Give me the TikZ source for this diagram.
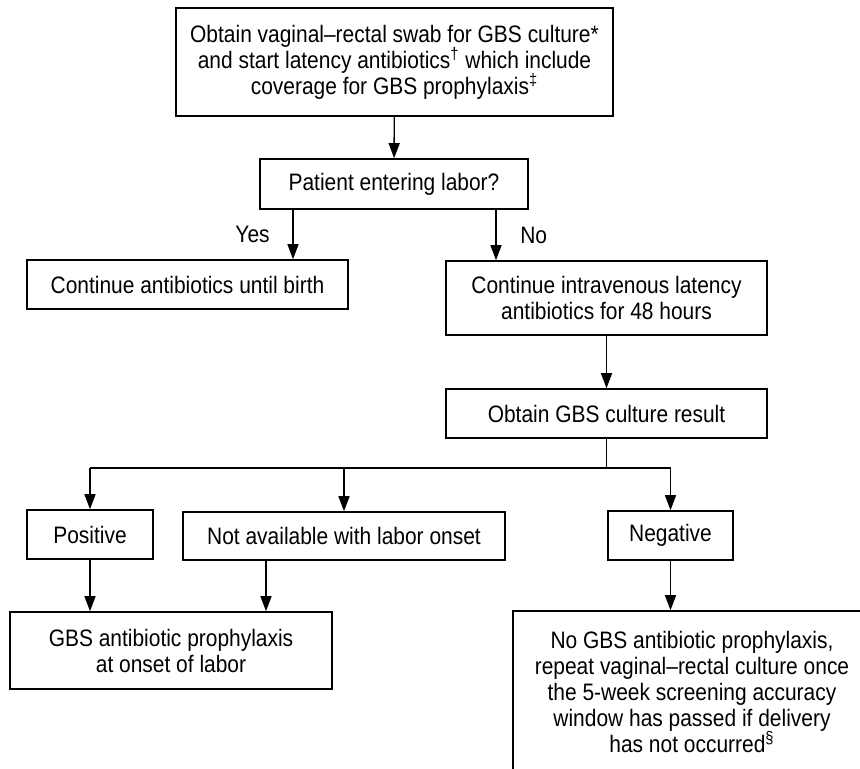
\documentclass[tikz,border=0pt]{standalone}
\usepackage{fontspec}
\setmainfont{Liberation Sans}[FakeStretch=0.88]
\usepackage{tikz}
\usetikzlibrary{positioning,calc}
\usetikzlibrary{arrows.meta}

\begin{document}
\begin{tikzpicture}[x=0.5pt,y=-0.5pt,
  every node/.style={font=\fontsize{11.9}{13}\selectfont},
  box/.style={draw,line width=0.8pt,align=center,inner sep=0pt},
  flow/.style={-{Triangle[length=7.5pt,width=5.5pt]},line width=0.7pt}]
  \useasboundingbox (0,0) rectangle (860,768);
  \clip (0,0) rectangle (860,768);
  % boxes
  \node[box,minimum width=218.5pt,minimum height=54pt] (swab) at (394.5,62)
    {Obtain vaginal--rectal swab for GBS culture*\\
     and start latency antibiotics\textsuperscript{†} which include\\
     coverage for GBS prophylaxis\textsuperscript{‡}};
  \node[box,minimum width=134pt,minimum height=25pt] (labor) at (394,184) {Patient entering labor?};
  \node[box,minimum width=160.5pt,minimum height=24.5pt] (birth) at (187.5,284.5) {Continue antibiotics until birth};
  \node[box,minimum width=160.5pt,minimum height=37pt] (iv) at (606.5,298)
    {Continue intravenous latency\\ antibiotics for 48 hours};
  \node[box,minimum width=160.5pt,minimum height=24.5pt] (result) at (606.5,413.5) {Obtain GBS culture result};
  \node[box,minimum width=63pt,minimum height=24.5pt] (pos) at (90,534.5) {Positive};
  \node[box,minimum width=161pt,minimum height=24pt] (na) at (344,536) {Not available with labor onset};
  \node[box,minimum width=62.5pt,minimum height=24.5pt] (neg) at (670.5,535.5) {Negative};
  \node[box,minimum width=161pt,minimum height=38.5pt] (prophy) at (171,650.5)
    {GBS antibiotic prophylaxis\\ at onset of labor};
  \node[box,minimum width=179pt,minimum height=81pt] (nogbs) at (692,692)
    {No GBS antibiotic prophylaxis,\\
     repeat vaginal--rectal culture once\\
     the 5-week screening accuracy\\
     window has passed if delivery\\
     has not occurred\textsuperscript{§}};
  % connectors
  \draw[flow] (swab) -- (labor);
  \coordinate[left=50.5pt of labor.south] (yes);
  \coordinate[right=51pt of labor.south] (no);
  \draw[flow] (yes) -- (yes |- birth.north) node[midway,left=8pt] {Yes};
  \draw[flow] (no) -- (no |- iv.north) node[midway,right=8.5pt] {No};
  \draw[flow] (iv) -- (result);
  \coordinate[below=14.5pt of result.south] (split);
  \draw[line width=0.7pt] (result.south) -- (split);
  \draw[line width=0.7pt] (pos.north |- split) -- (neg.north |- split);
  \draw[flow] (pos.north |- split) -- (pos.north);
  \draw[flow] (na.north |- split) -- (na.north);
  \draw[flow] (neg.north |- split) -- (neg.north);
  \coordinate[left=39pt of na.south] (nadown);
  \draw[flow] (pos) -- (pos |- prophy.north);
  \draw[flow] (nadown) -- (nadown |- prophy.north);
  \draw[flow] (neg) -- (neg |- nogbs.north);
  %\node[below=of prophy] {};
\end{tikzpicture}
\end{document}
